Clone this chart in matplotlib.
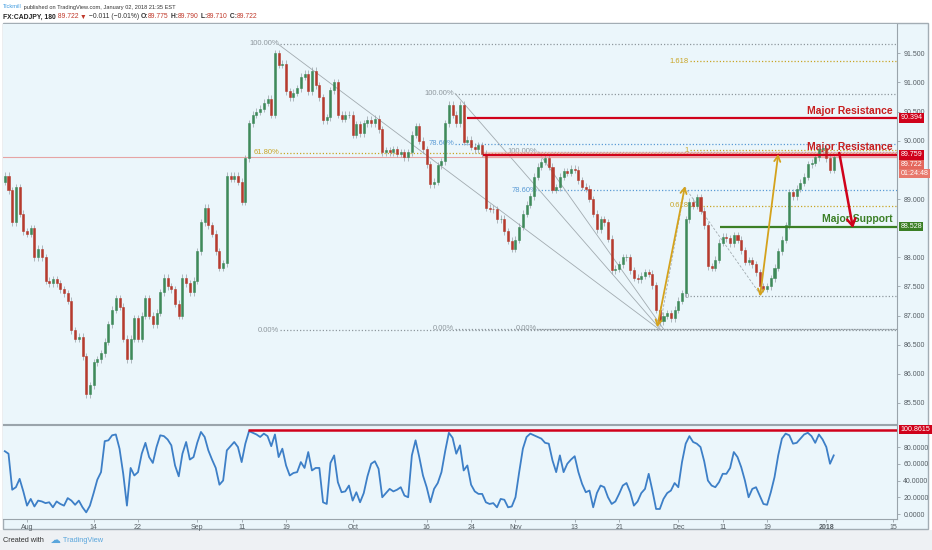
import numpy as np
import matplotlib
matplotlib.use('Agg')
import matplotlib.pyplot as plt
from matplotlib.patches import Rectangle, FancyArrowPatch
from matplotlib import font_manager

plt.rcParams['font.family'] = ['Liberation Sans', 'DejaVu Sans']
names = {f.name for f in font_manager.fontManager.ttflist}
narrow = 'Liberation Sans Narrow' if 'Liberation Sans Narrow' in names else 'Liberation Sans'

# 180-min CADJPY, sampled every half trading day (x = half-days since Aug 1)
start_k = -6
first_open = 89.30
closes = [
    89.40, 89.15, 88.60, 89.20, 88.75, 88.45, 88.40, 88.50, 88.00, 88.15,
    88.00, 87.60, 87.55, 87.62, 87.55, 87.45, 87.38, 87.25, 86.75, 86.60,
    86.64, 86.30, 85.65, 85.80, 86.20, 86.25, 86.35, 86.55, 86.85, 87.10,
    87.30, 87.15, 86.60, 86.25, 86.60, 86.95, 86.60, 87.00, 87.30, 87.00,
    86.85, 87.05, 87.40, 87.65, 87.50, 87.45, 87.20, 87.00, 87.65, 87.55,
    87.40, 87.60, 88.10, 88.60, 88.85, 88.55, 88.40, 88.10, 87.82, 87.90,
    89.40, 89.35, 89.40, 89.30, 88.95, 89.70, 90.30, 90.45, 90.50, 90.55,
    90.65, 90.72, 90.45, 91.50, 91.30, 91.32, 90.85, 90.75, 90.82, 90.90,
    91.10, 91.15, 90.85, 91.20, 90.95, 90.75, 90.35, 90.40, 90.87, 91.00,
    90.45, 90.38, 90.45, 90.45, 90.10, 90.28, 90.13, 90.30, 90.36, 90.30,
    90.38, 90.20, 89.80, 89.84, 89.80, 89.85, 89.78, 89.80, 89.72, 89.80,
    90.10, 90.25, 90.00, 89.85, 89.60, 89.25, 89.30, 89.58, 89.65, 90.30,
    90.62, 90.45, 90.30, 90.62, 89.98, 90.02, 89.90, 89.85, 89.92, 89.78,
    88.85, 88.83, 88.82, 88.65, 88.66, 88.45, 88.28, 88.15, 88.30, 88.52,
    88.75, 88.90, 89.05, 89.38, 89.55, 89.64, 89.70, 89.55, 89.16, 89.20,
    89.38, 89.48, 89.45, 89.52, 89.50, 89.32, 89.21, 89.18, 89.00, 88.75,
    88.48, 88.65, 88.60, 88.32, 87.78, 87.80, 87.88, 88.00, 88.00, 87.78,
    87.65, 87.62, 87.68, 87.74, 87.72, 87.52, 87.10, 86.90, 87.00, 87.04,
    86.95, 87.10, 87.25, 87.38, 88.65, 88.95, 88.88, 89.03, 88.80, 88.55,
    87.85, 87.82, 87.96, 88.25, 88.35, 88.33, 88.24, 88.38, 88.30, 88.12,
    87.92, 87.95, 87.88, 87.74, 87.50, 87.46, 87.50, 87.64, 87.82, 88.10,
    88.30, 88.55, 89.12, 89.05, 89.18, 89.28, 89.38, 89.60, 89.62, 89.72,
    89.85, 89.88, 89.70, 89.50, 89.72,
]
osc = [
    75, 72, 29, 32, 42, 27, 10, 18, 9, 16,
    15, 13, 14, 8, 15, 12, 10, 19, 16, 11,
    16, 8, 2, 10, 25, 41, 50, 87, 88, 94,
    95, 78, 48, 10, 55, 46, 50, 72, 85, 68,
    61, 80, 94, 93, 89, 82, 58, 45, 72, 86,
    65, 68, 85, 98, 92, 76, 65, 55, 35, 40,
    76, 81, 86, 80, 62, 84, 99, 97, 95, 92,
    96, 93, 81, 95, 68, 78, 58, 46, 49, 50,
    62, 55, 74, 52, 55, 55, 14, 12, 61, 70,
    38, 26, 27, 34, 16, 26, 14, 25, 45, 60,
    63, 54, 20, 25, 30, 27, 29, 32, 22, 20,
    70, 88, 68, 46, 32, 14, 30, 37, 50, 75,
    97, 91, 72, 82, 52, 58, 35, 27, 24, 24,
    14, 12, 13, 8, 18, 17, 8, 9, 20, 50,
    78, 92, 96, 94, 92, 90, 85, 84, 64, 50,
    70, 50, 60, 65, 69, 50, 36, 26, 28, 8,
    25, 34, 32, 20, 12, 15, 24, 34, 37, 26,
    10, 15, 25, 30, 48, 28, 6, 6, 18, 25,
    28, 37, 32, 62, 84, 93, 86, 84, 80, 63,
    40, 34, 32, 38, 48, 48, 55, 74, 68, 56,
    40, 20, 30, 32, 22, 12, 11, 26, 44, 70,
    90, 96, 94, 84, 85, 90, 95, 97, 93, 85,
    95, 89, 80, 60, 70,
]

tick_pos = [0, 18, 30, 46, 58, 70, 88, 108, 120, 132, 148, 160, 176, 188, 200, 216, 234]
tick_lab = ['Aug', '14', '22', 'Sep', '11', '19', 'Oct', '16', '24', 'Nov', '13', '21',
            'Dec', '11', '19', '2018', '15']
# 88.5 and 89.5 sit under the price tags, so they are not shown
price_ticks = [85.5, 86.0, 86.5, 87.0, 87.5, 88.0, 89.0, 90.0, 90.5, 91.0, 91.5]
osc_ticks = [0, 20, 40, 60, 80]

last_price = 89.722
resist_hi = 90.394
resist_lo = 89.759
support = 88.528
osc_line = 100.8615

# fib drawings: start x, then (price, label, colour key)
fib_sets = [
    (68.4, [(91.66, '100.00%', 'g'), (89.79, '61.80%', 'y'), (86.75, '0.00%', 'g')]),
    (115.7, [(90.81, '100.00%', 'g'), (89.95, '78.60%', 'b'), (86.77, '0.00%', 'g')]),
    (138.1, [(89.81, '100.00%', 'g'), (89.15, '78.60%', 'b'), (86.77, '0.00%', 'g')]),
    (179.2, [(87.33, '0', 'g'), (88.88, '0.618', 'y'), (89.84, '1', 'y'), (91.36, '1.618', 'y')]),
]
trend_lines = [
    ([67.8, 171.1], [91.66, 86.75]),
    ([115.7, 171.1], [90.81, 86.77]),
    ([138.1, 172.0], [89.81, 86.77]),
]
ext_path = ([171.0, 177.8, 198.5], [86.80, 89.20, 87.33])
gold_arrows = [((170.3, 86.80), (177.8, 89.22)), ((198.1, 87.33), (203.0, 89.77))]
red_arrow = ((219.5, 89.79), (223.2, 88.50))

BG = '#ebf6fb'
UP = '#3f8a5a'
DN = '#b63b2e'
RED = '#d0021b'
GREEN = '#3b7f25'
GOLD = '#d4a21c'
fibcol = {'g': '#8f989e', 'y': '#c9a526', 'b': '#5b9bd5'}

W, H = 932, 550
def box(l, t, r, b):
    return [l / W, 1 - b / H, (r - l) / W, (b - t) / H]

fig = plt.figure(figsize=(W / 100, H / 100), dpi=100, facecolor='white')
fig.add_artist(Rectangle((0, 0), 1, 20 / H, transform=fig.transFigure,
                         facecolor='#eef1f4', edgecolor='none', zorder=0))
fig.add_artist(Rectangle((3 / W, 1 - 529 / H), 925 / W, 506 / H, transform=fig.transFigure,
                         facecolor=BG, edgecolor='#a3adb4', lw=1, zorder=0))

ax = fig.add_axes(box(3, 24, 897, 424))
ax2 = fig.add_axes(box(3, 425, 897, 519), sharex=ax)
xl, xr = -6.49, 235.1
for a in (ax, ax2):
    a.set_facecolor(BG)
    for s in ('left', 'top'):
        a.spines[s].set_visible(False)
    for s in ('right', 'bottom'):
        a.spines[s].set_color('#9aa4ab')
        a.spines[s].set_linewidth(0.8)
    a.yaxis.tick_right()
    a.tick_params(axis='y', labelsize=5, colors='#9aa4ab', labelcolor='#555d63',
                  length=2.5, width=0.6, pad=2)
ax2.spines['top'].set_visible(True)
ax2.spines['top'].set_color('#9aa4ab')
ax.set_xlim(xl, xr)
ax.set_ylim(85.139, 92.003)
ax2.set_ylim(-5.97, 106.3)
ax.set_yticks(price_ticks, ['%.3f' % p for p in price_ticks])
ax2.set_yticks(osc_ticks, ['%.4f' % v for v in osc_ticks])
ax.tick_params(axis='x', bottom=False, labelbottom=False)
ax2.set_xticks(tick_pos, tick_lab)
ax2.tick_params(axis='x', labelsize=5, colors='#9aa4ab', labelcolor='#555d63',
                length=2, width=0.6, pad=1.5)
for t in ax2.get_xticklabels():
    if t.get_text() == '2018':
        t.set_fontweight('bold')

# candles
c = np.array(closes)
o = np.concatenate([[first_open], c[:-1]])
k = np.arange(len(c)) + start_k
cols = np.where(c >= o, UP, DN)
lo = np.minimum(o, c)
hi = np.maximum(o, c)
ax.vlines(k, lo - 0.06, hi + 0.06, color='#959fa5', lw=0.5, zorder=3)
ax.bar(k, c - o, bottom=o, width=0.55, color=cols, edgecolor=cols, lw=0.4, zorder=4)

ax.axhline(last_price, color='#e6a4a4', lw=0.8, zorder=1)

# fib levels
for x0, levels in fib_sets:
    for p, lab, ck in levels:
        ax.hlines(p, x0, xr, colors=fibcol[ck], linestyles=(0, (1, 1.6)), lw=0.9, zorder=2)
        ax.text(x0 - 0.3, p, lab, color=fibcol[ck], fontsize=5.5, ha='right', va='center', zorder=2)
for xs, ys in trend_lines:
    ax.plot(xs, ys, color='#a2abb0', lw=0.6, zorder=2)
ax.plot(ext_path[0], ext_path[1], color='#a2abb0', lw=0.6, ls=(0, (3, 2)), zorder=2)

# support / resistance
ax.hlines(resist_hi, 118.9, xr, color=RED, lw=1.6, zorder=5)
ax.hlines(resist_lo, 123.2, xr, color='#f2a3a3', lw=4.5, alpha=0.6, zorder=2)
ax.hlines(resist_lo, 123.2, xr, color=RED, lw=1.6, zorder=5)
ax.hlines(support, 187.3, xr, color=GREEN, lw=1.6, zorder=5)
ax.text(234.0, resist_hi + 0.03, 'Major Resistance', color='#c81e1e', fontsize=7.5,
        fontweight='bold', ha='right', va='bottom', zorder=2)
ax.text(234.0, resist_lo + 0.04, 'Major Resistance', color='#c81e1e', fontsize=7.5,
        fontweight='bold', ha='right', va='bottom', zorder=2)
ax.text(234.0, support + 0.04, 'Major Support', color=GREEN, fontsize=7.5,
        fontweight='bold', ha='right', va='bottom', zorder=2)

for a0, a1 in gold_arrows:
    ax.add_patch(FancyArrowPatch(a0, a1, arrowstyle='<->,head_length=4,head_width=2.2',
                                 color=GOLD, lw=1.3, zorder=6, shrinkA=0, shrinkB=0))
ax.add_patch(FancyArrowPatch(red_arrow[0], red_arrow[1], arrowstyle='->,head_length=5,head_width=3',
                             color=RED, lw=1.8, zorder=6, shrinkA=0, shrinkB=0))

# oscillator
ax2.plot(k, osc, color='#3d7fc7', lw=1.3, zorder=3)
ax2.hlines(osc_line, 59.7, xr, color=RED, lw=1.8, zorder=4)

def tag(a, y, s, fc):
    a.text(1.004, y, s, transform=a.get_yaxis_transform(), ha='left', va='center',
           fontsize=5.1, color='white', clip_on=False, zorder=10,
           bbox=dict(boxstyle='square,pad=0.18', fc=fc, ec='none'))

tag(ax, resist_hi, '%.3f' % resist_hi, RED)
tag(ax, 89.44, '01:24:48', '#e8786c')
tag(ax, 89.60, '%.3f' % last_price, '#e4685c')
tag(ax, resist_lo, '%.3f' % resist_lo, RED)
tag(ax, support, '%.3f' % support, GREEN)
tag(ax2, osc_line, '%.4f' % osc_line, RED)

# header and footer
def chain(prev, s, color, weight='normal', size=4.6, fam=narrow):
    return ax.annotate(s, xy=(1, 0.5), xycoords=prev, xytext=(0, 0), textcoords='offset points',
                       ha='left', va='center', color=color, fontsize=size, fontweight=weight,
                       family=[fam, 'DejaVu Sans'], annotation_clip=False)

t = fig.text(3 / W, 1 - 7 / H, 'Tickmill', color='#3d9ae0', fontsize=4.1, va='center',
             family=[narrow, 'DejaVu Sans'])
chain(t, ' published on TradingView.com, January 02, 2018 21:35 EST', '#333333', size=4.1)

DK = '#333333'
HR = '#c0392b'
t = fig.text(3 / W, 1 - 17 / H, 'FX:CADJPY, 180', color='#222222', fontsize=4.9,
             fontweight='bold', va='center', family=[narrow, 'DejaVu Sans'])
parts = [(' 89.722 ', HR), ('\u25bc', HR), (' \u22120.011 (\u22120.01%) ', DK), ('O:', DK), ('89.775', HR),
         (' H:', DK), ('89.790', HR), (' L:', DK), ('89.710', HR), (' C:', DK), ('89.722', HR)]
for s, col in parts:
    w = 'bold' if s.strip().endswith(':') else 'normal'
    t = chain(t, s, col, w, size=4.9)

t = fig.text(3 / W, 1 - 540 / H, 'Created with', color='#333333', fontsize=5.3, va='center')
t = chain(t, '  \u2601', '#5aa6dc', size=7.5, fam='DejaVu Sans')
chain(t, ' TradingView', '#5aa6dc', size=5.3, fam='Liberation Sans')

fig.savefig('out.png', dpi=100, facecolor=fig.get_facecolor())
